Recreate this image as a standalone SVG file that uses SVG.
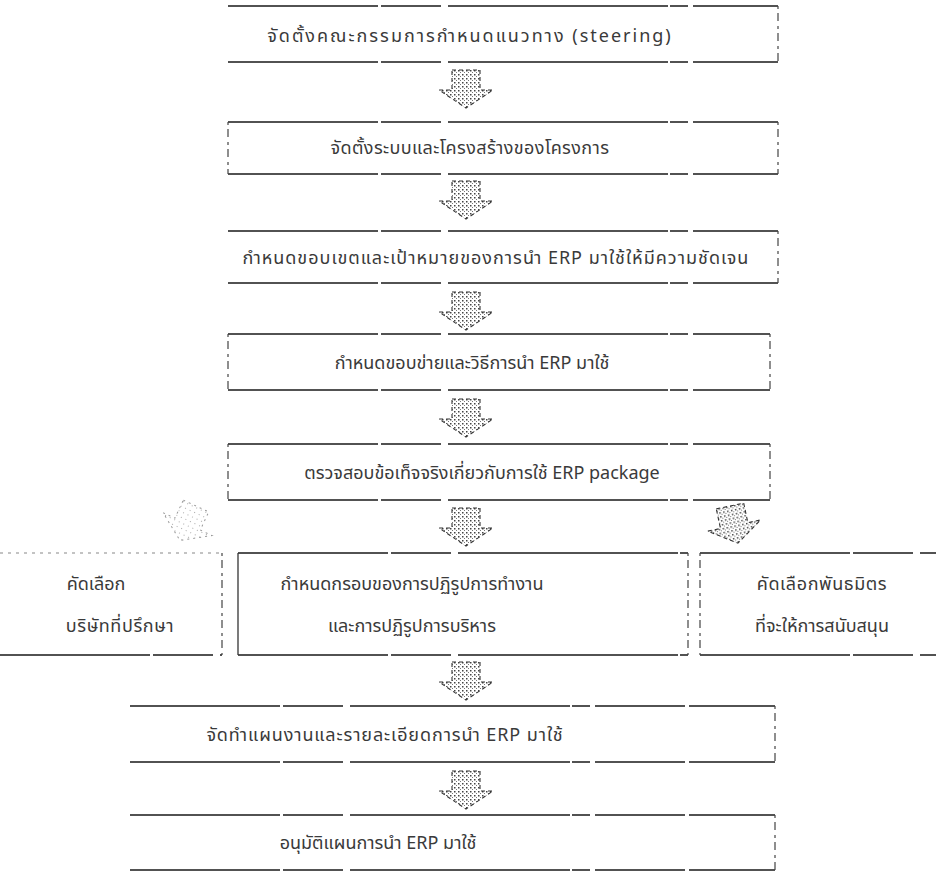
<svg xmlns="http://www.w3.org/2000/svg" width="936" height="873" viewBox="0 0 936 873">
<style>
  .h{stroke:#1a1a1a;stroke-width:1.6;stroke-dasharray:150 3 60 7 220 2 18 5 90 4;fill:none}
  .v{stroke:#444;stroke-width:1.2;stroke-dasharray:3 4 8 5;fill:none}
  .t{font-family:"Noto Sans Thai","Noto Sans","DejaVu Sans","Liberation Sans",sans-serif;font-size:18px;fill:#3a3a3a;text-anchor:middle}
  .arr{fill:url(#dots);stroke:#333;stroke-width:1.1;stroke-dasharray:4 3}
  .arrf{fill:url(#dotsl);stroke:#999;stroke-width:1;stroke-dasharray:2 4}
</style>
<defs>
  <pattern id="dots" width="4" height="4" patternUnits="userSpaceOnUse">
    <rect width="4" height="4" fill="#fff"/>
    <rect x="0" y="0" width="1.5" height="1.5" fill="#444"/>
    <rect x="2" y="2" width="1" height="1" fill="#777"/>
  </pattern>
  <pattern id="dotsl" width="5" height="5" patternUnits="userSpaceOnUse">
    <rect width="5" height="5" fill="#fff"/>
    <rect x="1" y="1" width="1" height="1" fill="#aaa"/>
  </pattern>
  <path id="barrow" d="M -14 0 H 14 V 20 H 27 L 0 38 L -27 20 H -14 Z"/>
</defs>
<rect width="936" height="873" fill="#fff"/>

<g id="connectors">
  <use href="#barrow" class="arr" x="466" y="70"/>
  <use href="#barrow" class="arr" x="466" y="181"/>
  <use href="#barrow" class="arr" x="466" y="292"/>
  <use href="#barrow" class="arr" x="466" y="399"/>
  <use href="#barrow" class="arr" x="466" y="508"/>
  <use href="#barrow" class="arrf" transform="translate(196 506) rotate(25)"/>
  <use href="#barrow" class="arr" transform="translate(730 506) rotate(-12)"/>
  <use href="#barrow" class="arr" x="466" y="662"/>
  <use href="#barrow" class="arr" x="466" y="771"/>
</g>

<g id="n1">
  <rect x="228" y="6" width="550" height="56" fill="#fff"/>
  <line class="h" x1="228" y1="6" x2="778" y2="6"/>
  <line class="h" x1="228" y1="62" x2="778" y2="62"/>
  <line class="v" x1="778" y1="6" x2="778" y2="62"/>
  <text class="t" x="470" y="42" style="letter-spacing:2px">จัดตั้งคณะกรรมการกำหนดแนวทาง (steering)</text>
</g>

<g id="n2">
  <rect x="228" y="122" width="550" height="52" fill="#fff"/>
  <line class="h" x1="228" y1="122" x2="778" y2="122"/>
  <line class="h" x1="228" y1="174" x2="778" y2="174"/>
  <line class="v" x1="228" y1="122" x2="228" y2="174"/>
  <line class="v" x1="778" y1="122" x2="778" y2="174"/>
  <text class="t" x="470" y="154" style="letter-spacing:0.4px">จัดตั้งระบบและโครงสร้างของโครงการ</text>
</g>

<g id="n3">
  <rect x="228" y="231" width="550" height="52" fill="#fff"/>
  <line class="h" x1="228" y1="231" x2="778" y2="231"/>
  <line class="h" x1="228" y1="283" x2="778" y2="283"/>
  <line class="v" x1="778" y1="231" x2="778" y2="283"/>
  <text class="t" x="496" y="264" style="letter-spacing:1px">กำหนดขอบเขตและเป้าหมายของการนำ ERP มาใช้ให้มีความชัดเจน</text>
</g>

<g id="n4">
  <rect x="228" y="334" width="542" height="56" fill="#fff"/>
  <line class="h" x1="228" y1="334" x2="770" y2="334"/>
  <line class="h" x1="228" y1="390" x2="770" y2="390"/>
  <line class="v" x1="228" y1="334" x2="228" y2="390"/>
  <line class="v" x1="770" y1="334" x2="770" y2="390"/>
  <text class="t" x="472" y="369">กำหนดขอบข่ายและวิธีการนำ ERP มาใช้</text>
</g>

<g id="n5">
  <rect x="228" y="444" width="542" height="56" fill="#fff"/>
  <line class="h" x1="228" y1="444" x2="770" y2="444"/>
  <line class="h" x1="228" y1="500" x2="770" y2="500"/>
  <line class="v" x1="228" y1="444" x2="228" y2="500"/>
  <line class="v" x1="770" y1="444" x2="770" y2="500"/>
  <text class="t" x="482" y="479">ตรวจสอบข้อเท็จจริงเกี่ยวกับการใช้ ERP package</text>
</g>

<g id="n6a">
  <rect x="0" y="553" width="222" height="102" fill="#fff"/>
  <line x1="0" y1="553" x2="222" y2="553" stroke="#888" stroke-width="1.2" stroke-dasharray="3 5"/>
  <line class="h" x1="0" y1="655" x2="222" y2="655"/>
  <line class="v" x1="222" y1="553" x2="222" y2="655"/>
  <text class="t" x="96" y="590">คัดเลือก</text>
  <text class="t" x="120" y="632" style="letter-spacing:0.6px">บริษัทที่ปรึกษา</text>
</g>

<g id="n6b">
  <rect x="238" y="553" width="450" height="102" fill="#fff"/>
  <line class="h" x1="238" y1="553" x2="688" y2="553"/>
  <line class="h" x1="238" y1="655" x2="688" y2="655"/>
  <line x1="238" y1="553" x2="238" y2="655" stroke="#333" stroke-width="1.3"/>
  <line class="v" x1="688" y1="553" x2="688" y2="655"/>
  <text class="t" x="412" y="590">กำหนดกรอบของการปฏิรูปการทำงาน</text>
  <text class="t" x="412" y="632">และการปฏิรูปการบริหาร</text>
</g>

<g id="n6c">
  <rect x="700" y="553" width="236" height="102" fill="#fff"/>
  <line class="h" x1="700" y1="553" x2="936" y2="553"/>
  <line class="h" x1="700" y1="655" x2="936" y2="655"/>
  <line class="v" x1="700" y1="553" x2="700" y2="655"/>
  <text class="t" x="822" y="590" style="letter-spacing:0.6px">คัดเลือกพันธมิตร</text>
  <text class="t" x="822" y="632">ที่จะให้การสนับสนุน</text>
</g>

<g id="n7">
  <rect x="130" y="706" width="645" height="56" fill="#fff"/>
  <line class="h" x1="130" y1="706" x2="775" y2="706"/>
  <line class="h" x1="130" y1="762" x2="775" y2="762"/>
  <line class="v" x1="775" y1="706" x2="775" y2="762"/>
  <text class="t" x="385" y="741" style="letter-spacing:0.9px">จัดทำแผนงานและรายละเอียดการนำ ERP มาใช้</text>
</g>

<g id="n8">
  <rect x="130" y="815" width="645" height="55" fill="#fff"/>
  <line class="h" x1="130" y1="815" x2="775" y2="815"/>
  <line class="h" x1="130" y1="870" x2="775" y2="870"/>
  <line class="v" x1="775" y1="815" x2="775" y2="870"/>
  <text class="t" x="378" y="849">อนุมัติแผนการนำ ERP มาใช้</text>
</g>
</svg>
